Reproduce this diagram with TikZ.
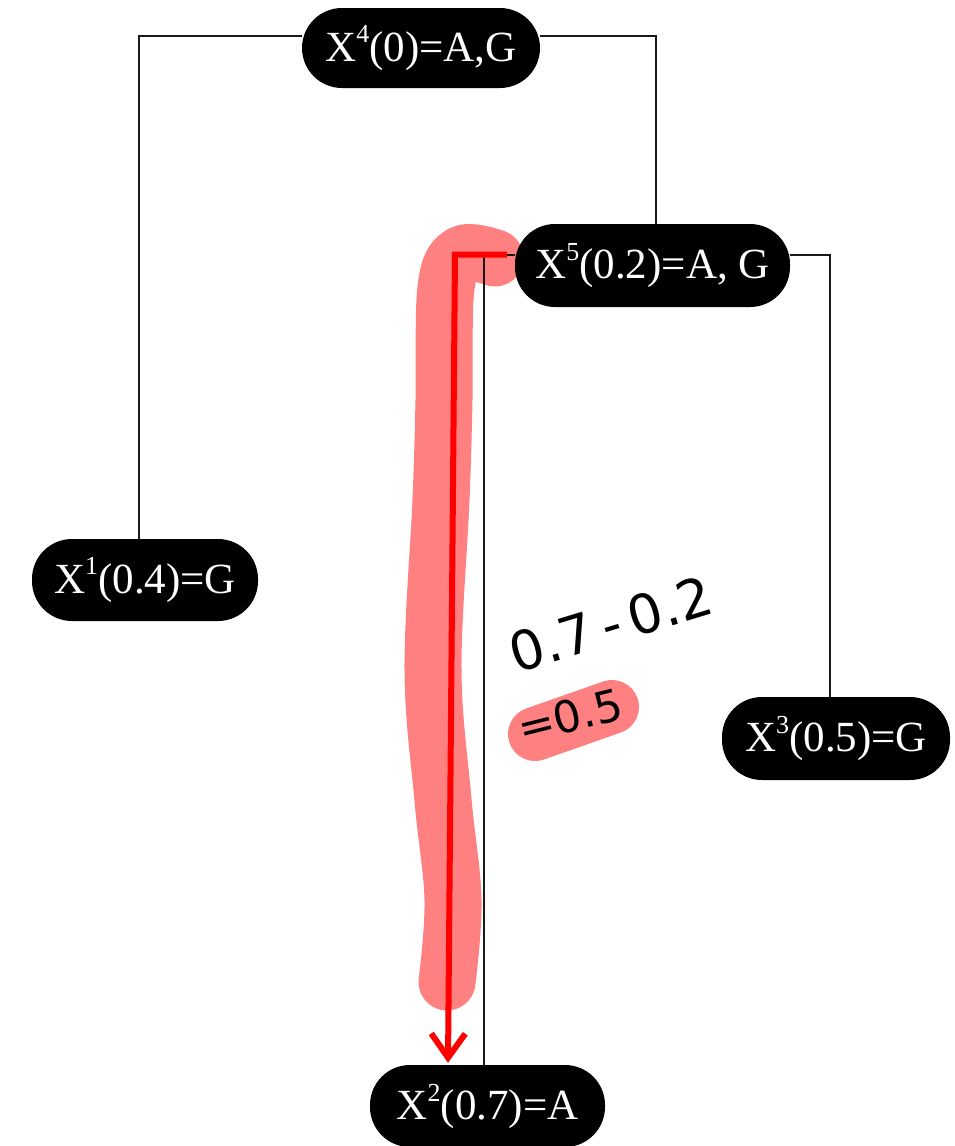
\documentclass[tikz,border=0pt]{standalone}
\usepackage{fontspec}
\setmainfont{Liberation Serif}
\newfontfamily\handfont{DejaVu Sans}
\usetikzlibrary{arrows.meta,backgrounds}
\definecolor{hl}{RGB}{255,128,128}
\definecolor{redpen}{RGB}{255,0,0}
\newcommand{\sups}[1]{\raisebox{0.42em}{\fontsize{26}{26}\selectfont #1}}
\begin{document}
\begin{tikzpicture}[x=1pt,y=-1pt,
  pill/.style={fill=black, text=white, rounded corners=40pt, inner sep=0pt,
    font=\fontsize{43}{43}\selectfont},
  conn/.style={draw=black!90, line width=2pt},
  highlight/.style={draw=hl, line cap=round, line join=round},
  redarrow/.style={draw=redpen, line width=6pt, -{Straight Barb[length=24pt,width=34pt]}},
  hand/.style={inner sep=0pt, text=black}]
\useasboundingbox (0,0) rectangle (954,1146);

\node[pill, minimum width=238pt, minimum height=80pt] (x4) at (421,48) {X\sups{4}(0)=A,G};
\node[pill, minimum width=275pt, minimum height=83pt] (x5) at (652.5,265.5) {X\sups{5}(0.2)=A, G};
\node[pill, minimum width=226pt, minimum height=82pt] (x1) at (145,580) {X\sups{1}(0.4)=G};
\node[pill, minimum width=228pt, minimum height=83pt] (x3) at (836,738.5) {X\sups{3}(0.5)=G};
\node[pill, minimum width=235pt, minimum height=82pt] (x2) at (487.5,1106) {X\sups{2}(0.7)=A};

\begin{scope}[on background layer]
  % highlighter strokes
  \draw[highlight, line width=57pt] plot[smooth, tension=0.6] coordinates
    {(495,258) (462,254) (446,288) (444,400) (441,500) (433,670) (443,800) (453,900) (447,982)};
  \draw[highlight, line width=54pt] (535,734) -- (612,707);
  % tree connectors
  \draw[conn] ([yshift=12pt]x4.west) -| ([xshift=-6pt]x1.north);
  \draw[conn] ([yshift=12pt]x4.east) -| ([xshift=3.5pt]x5.north);
  \draw[conn] ([yshift=11pt]x5.west) -| ([xshift=-3.5pt]x2.north);
  \draw[conn] ([yshift=11pt]x5.east) -| ([xshift=-6pt]x3.north);
  % red pen arrow
  \coordinate (rc) at (455,254.5);
  \draw[redarrow] ([xshift=-8pt,yshift=11pt]x5.west) -- (rc) -- ([xshift=-39.5pt,yshift=2pt]x2.north);
\end{scope}

\node[hand, rotate=17, font=\handfont\fontsize{54}{54}\selectfont] (t1) at (611,624) {0.7\,-\,0.2};
\node[hand, rotate=14, font=\handfont\fontsize{44}{44}\selectfont] (t2) at (570,716) {=0.5};
\end{tikzpicture}
\end{document}
